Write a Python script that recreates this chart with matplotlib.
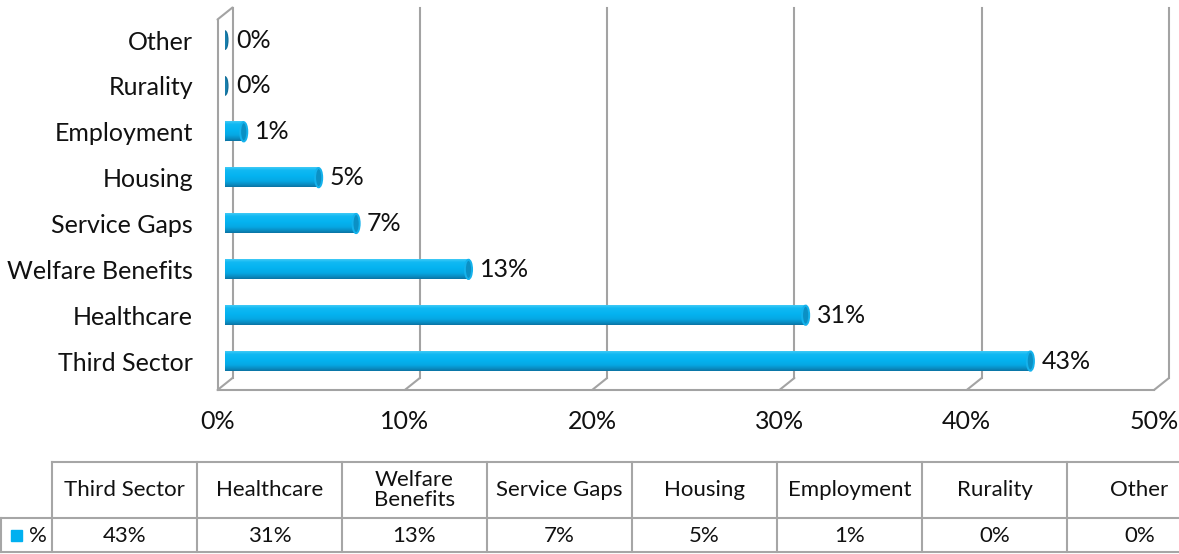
import numpy as np
import matplotlib
matplotlib.use("Agg")
import matplotlib.pyplot as plt
from matplotlib.patches import Ellipse
from matplotlib.transforms import offset_copy, ScaledTranslation
from matplotlib.colors import LinearSegmentedColormap

plt.rcParams['font.family'] = ['Lato', 'DejaVu Sans']

# categories, bottom to top
categories = ["Third Sector", "Healthcare", "Welfare Benefits", "Service Gaps",
              "Housing", "Employment", "Rurality", "Other"]
values = [43, 31, 13, 7, 5, 1, 0, 0]
ticks = [0, 10, 20, 30, 40, 50]
table_headers = ["Third Sector", "Healthcare", "Welfare\nBenefits", "Service Gaps",
                 "Housing", "Employment", "Rurality", "Other"]

W, H = 1179, 554
fig = plt.figure(figsize=(W / 100, H / 100), dpi=100)

# main plot area (pixel extents converted to figure fractions)
x0, x1 = 225, 1161.5
ytop, ybot = 13.5, 384
ax = fig.add_axes([x0 / W, 1 - ybot / H, (x1 - x0) / W, (ybot - ytop) / H])
ax.set_xlim(0, 50)
ax.set_ylim(-0.5, 7.58)
for s in ax.spines.values():
    s.set_visible(False)
ax.patch.set_visible(False)

grey = "#a3a3a3"
back = offset_copy(ax.transData, fig=fig, x=7.5, y=6, units='dots')
front = offset_copy(ax.transData, fig=fig, x=-7.5, y=-6, units='dots')
yb, yt = -0.5, 7.58

# back wall verticals
for t in ticks:
    ax.plot([t, t], [yb, yt], color=grey, lw=1.5, transform=back, clip_on=False)
# left side wall
ax.plot([0, 0], [yb, yt], color=grey, lw=1.5, transform=front, clip_on=False)
ax.annotate("", xy=(0, yt), xycoords=back, xytext=(0, yt), textcoords=front,
            arrowprops=dict(arrowstyle="-", color=grey, lw=1.5, shrinkA=0, shrinkB=0))
# floor
ax.plot([0, 50], [yb, yb], color=grey, lw=1.5, transform=front, clip_on=False)
for t in ticks:
    ax.annotate("", xy=(t, yb), xycoords=back, xytext=(t, yb), textcoords=front,
                arrowprops=dict(arrowstyle="-", color=grey, lw=1.5, shrinkA=0, shrinkB=0))

# cylinders
h = 0.42
cap_w = 0.38
grad = LinearSegmentedColormap.from_list(
    "cyl", [(0, "#0a74a4"), (0.12, "#0a8cc2"), (0.3, "#06a8e4"),
            (0.55, "#04b3f0"), (0.85, "#10b9f3"), (1, "#40caf6")])
g = np.linspace(0, 1, 64).reshape(-1, 1)
for i, v in enumerate(values):
    if v > 0:
        ax.add_patch(Ellipse((0, i), cap_w, h * 0.98, facecolor="#06a8e4",
                             edgecolor="none", zorder=2))
        ax.imshow(g, cmap=grad, extent=[0, v, i - h / 2, i + h / 2], aspect='auto',
                  origin='lower', zorder=3, interpolation='bilinear')
        ax.add_patch(Ellipse((v, i), cap_w, h, facecolor="#0b90c4", edgecolor="#14b2ec",
                             lw=1.4, zorder=4))
    else:
        ax.add_patch(Ellipse((0, i), cap_w * 0.8, h * 0.95, facecolor="#177fae",
                             edgecolor="#136e98", lw=1, zorder=4))
    ax.annotate(f"{v}%", (v, i), xytext=(11, 0), textcoords='offset pixels',
                ha='left', va='center', fontsize=18, color='#111111')

ax.set_xlim(0, 50)
ax.set_ylim(-0.5, 7.58)
ax.set_yticks(range(len(categories)))
ax.set_yticklabels(categories, fontsize=18, color='#111111')
ax.tick_params(axis='y', length=0, pad=23)
ax.set_xticks(ticks)
ax.set_xticklabels([f"{t}%" for t in ticks], fontsize=18, color='#111111')
ax.tick_params(axis='x', length=0, pad=19)
shift = ScaledTranslation(-7.5 / 100, 0, fig.dpi_scale_trans)
for lab in ax.get_xticklabels():
    lab.set_transform(lab.get_transform() + shift)

# data table under the chart
col_w = [52] + [145] * len(table_headers)
edges = np.concatenate([[1], np.cumsum(col_w)])
t_top, t_mid, t_bot = 462, 518, 552
tax = fig.add_axes([0, 0, 1, 1])
tax.set_xlim(0, W)
tax.set_ylim(H, 0)
tax.axis('off')
tc = "#a6a6a6"
tax.plot([edges[1], edges[-1]], [t_top, t_top], color=tc, lw=1.5)
tax.plot([edges[0], edges[-1]], [t_mid, t_mid], color=tc, lw=1.5)
tax.plot([edges[0], edges[-1]], [t_bot, t_bot], color=tc, lw=1.5)
tax.plot([edges[0], edges[0]], [t_mid, t_bot], color=tc, lw=1.5)
for e in edges[1:]:
    tax.plot([e, e], [t_top, t_bot], color=tc, lw=1.5)
for j, (hd, v) in enumerate(zip(table_headers, values)):
    cx = (edges[j + 1] + edges[j + 2]) / 2
    tax.text(cx, (t_top + t_mid) / 2, hd, ha='center', va='center', fontsize=16,
             color='#111111', linespacing=0.95)
    tax.text(cx, (t_mid + t_bot) / 2 + 1, f"{v}%", ha='center', va='center', fontsize=16,
             color='#111111')
tax.add_patch(plt.Rectangle((11, 530), 11, 11, color="#00b0f0"))
tax.text(29, (t_mid + t_bot) / 2 + 1, "%", ha='left', va='center', fontsize=16, color='#111111')

fig.savefig("out.png", dpi=100)
